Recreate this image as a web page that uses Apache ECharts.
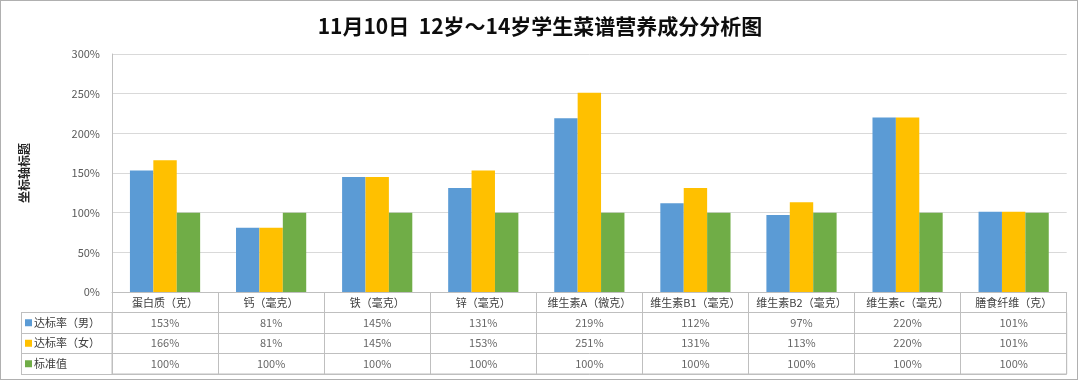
<!DOCTYPE html>
<html><head><meta charset="utf-8">
<script src="https://cdn.jsdelivr.net/npm/echarts@6/dist/echarts.min.js"></script>
<style>
html,body{margin:0;padding:0;background:#fff;}
#c{position:absolute;left:0;top:0;width:1080px;height:382px;}
#b{position:absolute;left:0;top:0;width:1076px;height:378px;border:1px solid #b0b0b0;pointer-events:none;}
</style></head>
<body><div id="c"></div><div id="b"></div>
<script>
const title = '11月10日  12岁～14岁学生菜谱营养成分分析图';
const categories = ['蛋白质（克）','钙（毫克）','铁（毫克）','锌（毫克）','维生素A（微克）','维生素B1（毫克）','维生素B2（毫克）','维生素c（毫克）','膳食纤维（克）'];
const seriesNames = ['达标率（男）','达标率（女）','标准值'];
const male = [153, 81, 145, 131, 219, 112, 97, 220, 101];
const female = [166, 81, 145, 153, 251, 131, 113, 220, 101];
const standard = [100, 100, 100, 100, 100, 100, 100, 100, 100];
const yTicks = [0, 50, 100, 150, 200, 250, 300];
const colors = ['#5B9BD5', '#FFC000', '#70AD47'];
const rows = [male, female, standard];

const FONT = "'Noto Sans CJK SC', 'Noto Sans', sans-serif";
const lineColor = '#bfbfbf';
const chart = echarts.init(document.getElementById('c'), null, {renderer: 'canvas'});

const rich = {t: {fontSize: 11, color: '#404040', fontFamily: FONT, padding: [0, 0, 0, 2]}};
colors.forEach((c, i) => { rich['m' + i] = {width: 7, height: 7, backgroundColor: c}; });

const barSeries = rows.map((vals, i) => ({
  type: 'bar', name: seriesNames[i], data: vals, xAxisIndex: 0, yAxisIndex: 0,
  barWidth: 23.4, barGap: '0%', itemStyle: {color: colors[i]}
}));
const cellSeries = rows.map((vals, r) => ({
  type: 'scatter', xAxisIndex: 1, yAxisIndex: 1, symbolSize: 1,
  itemStyle: {color: 'rgba(0,0,0,0)'},
  data: categories.map((c, i) => [c, seriesNames[r], vals[i]]),
  label: {show: true, position: 'inside', formatter: p => p.value[2] + '%',
    fontSize: 11, color: '#404040', fontFamily: FONT}
}));

chart.setOption({
  animation: false,
  title: {text: title, left: 'center', top: 11,
    textStyle: {fontSize: 21, fontWeight: 'bold', color: '#0d0d0d', fontFamily: FONT}},
  grid: [
    {left: 112, right: 13.3, top: 54, bottom: 90},
    {left: 112, right: 13.3, top: 312.5, height: 61.5, show: true, borderColor: lineColor, borderWidth: 1}
  ],
  xAxis: [
    {type: 'category', gridIndex: 0, data: categories,
      axisLine: {show: true, lineStyle: {color: lineColor}},
      axisTick: {show: true, length: 20.5, interval: 0, lineStyle: {color: lineColor}},
      axisLabel: {interval: 0, fontSize: 11, color: '#404040', fontFamily: FONT, margin: 5}},
    {type: 'category', gridIndex: 1, data: categories,
      axisLine: {show: false}, axisTick: {show: false}, axisLabel: {show: false},
      splitLine: {show: true, interval: 0, lineStyle: {color: lineColor}}}
  ],
  yAxis: [
    {type: 'value', gridIndex: 0, min: yTicks[0], max: yTicks[yTicks.length - 1], interval: 50,
      name: '坐标轴标题', nameLocation: 'middle', nameRotate: 90, nameGap: 82,
      nameTextStyle: {fontSize: 12, fontWeight: 'bold', color: '#262626', fontFamily: FONT},
      axisLine: {show: true, lineStyle: {color: lineColor}},
      axisTick: {show: false},
      axisLabel: {formatter: '{value}%', fontSize: 11, color: '#595959', fontFamily: FONT, margin: 12},
      splitLine: {lineStyle: {color: '#d9d9d9'}}},
    {type: 'category', gridIndex: 1, data: seriesNames, inverse: true,
      axisLine: {show: false},
      axisTick: {show: true, length: 91, interval: 0, lineStyle: {color: lineColor}},
      axisLabel: {interval: 0, align: 'left', margin: 87,
        formatter: (v, i) => '{m' + i + '| }{t|' + v + '}', rich: rich},
      splitLine: {show: true, interval: 0, lineStyle: {color: lineColor}}},
    {type: 'category', gridIndex: 1, data: seriesNames, inverse: true, position: 'left', offset: 91,
      axisLine: {show: true, lineStyle: {color: lineColor}},
      axisTick: {show: false}, axisLabel: {show: false}, splitLine: {show: false}}
  ],
  series: barSeries.concat(cellSeries)
});
</script></body></html>
